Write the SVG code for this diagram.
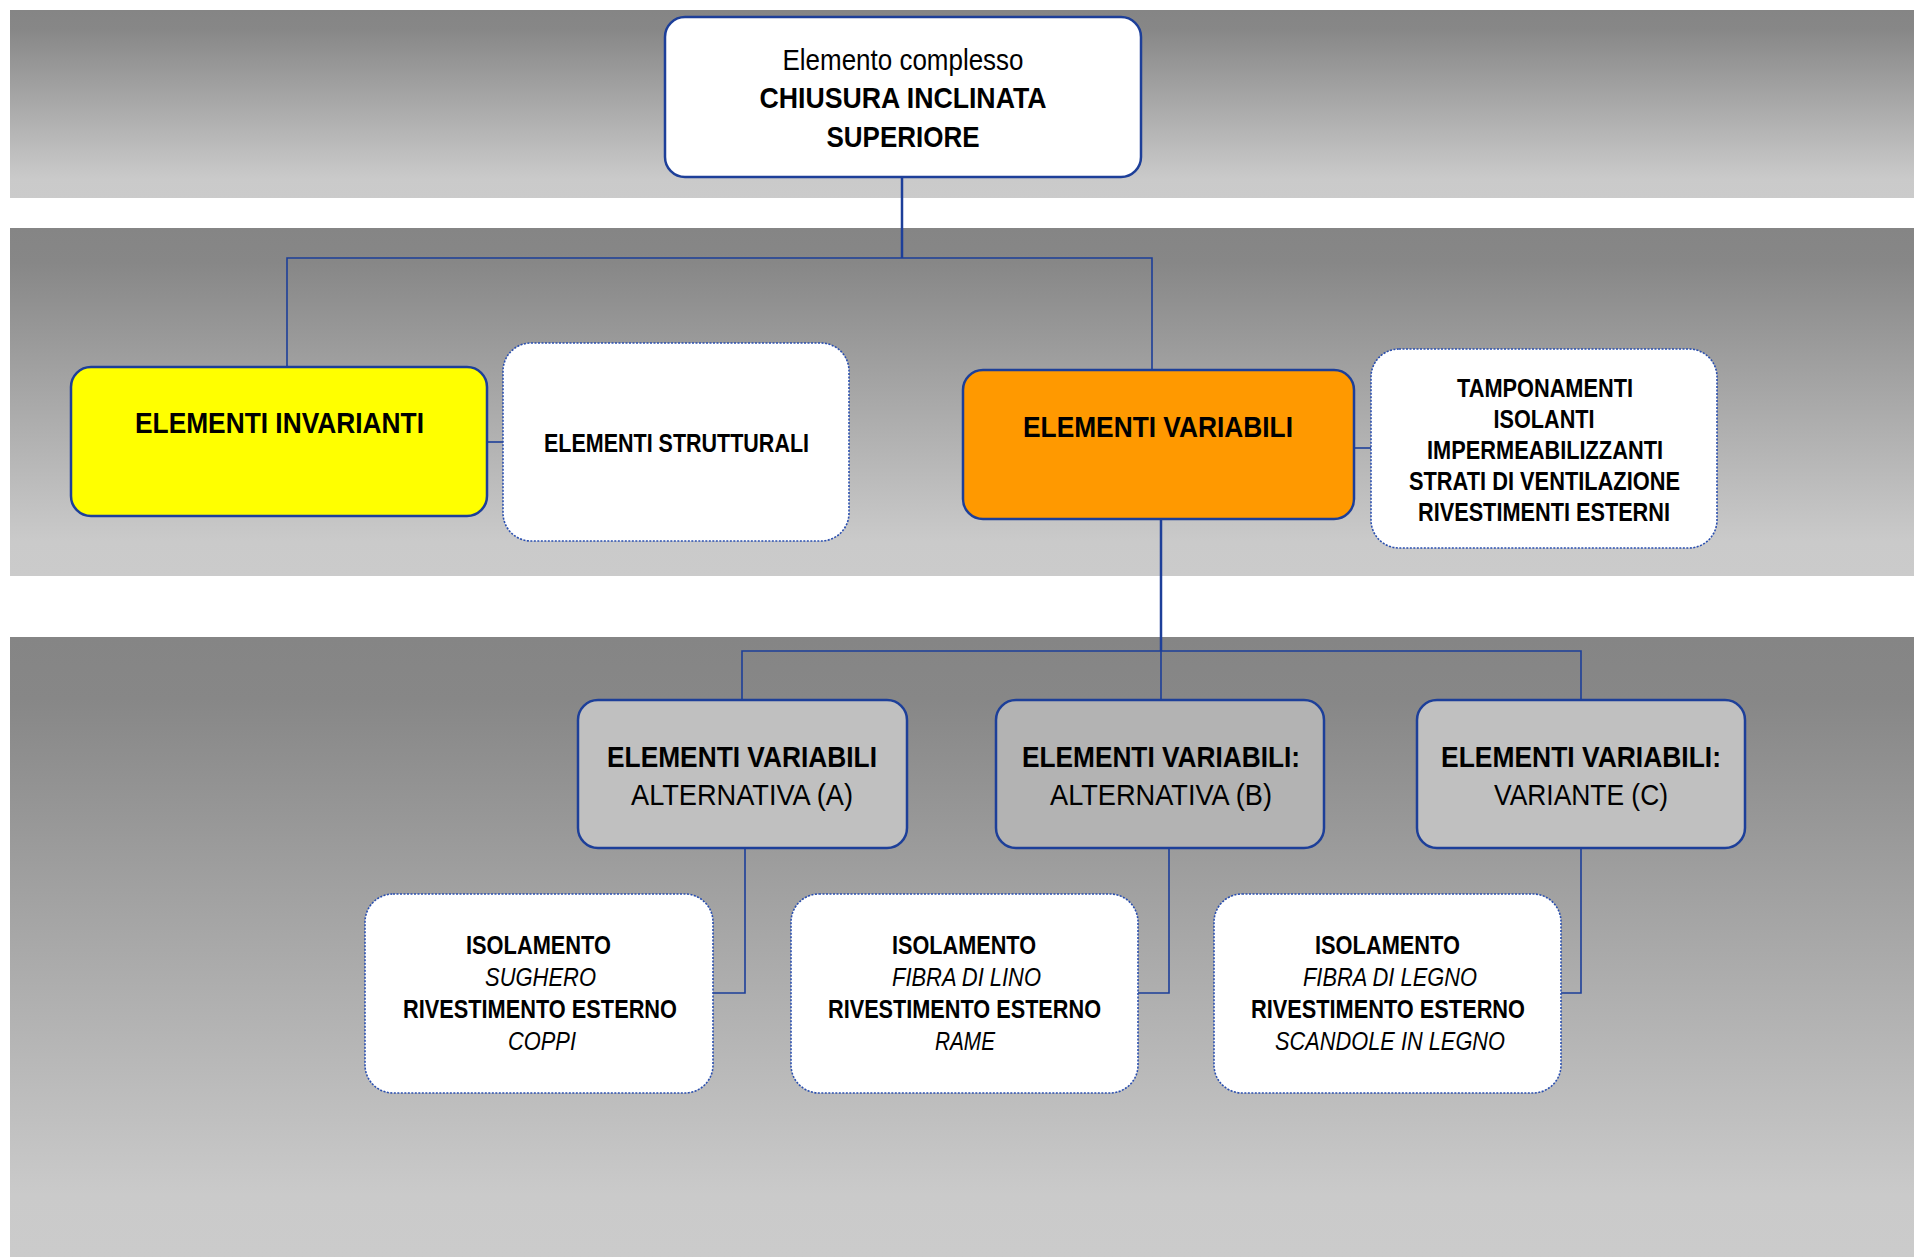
<svg xmlns="http://www.w3.org/2000/svg" width="1914" height="1257" viewBox="0 0 1914 1257">
<defs>
<linearGradient id="band" x1="0" y1="0" x2="0" y2="1">
<stop offset="0" stop-color="#858585"/>
<stop offset="0.1" stop-color="#878787"/>
<stop offset="0.9" stop-color="#cacaca"/>
<stop offset="1" stop-color="#cbcbcb"/>
</linearGradient>
<style>
text{font-family:"Liberation Sans Narrow","Liberation Sans",Arial,sans-serif;fill:#000;text-anchor:middle}
.b{font-weight:bold}
.i{font-style:italic}
.f30{font-size:30px}
.f25{font-size:25px}
.solid{stroke:#1d3f99;stroke-width:2.5}
.dot{fill:#fff;stroke:#2a4fb0;stroke-width:1.6;stroke-dasharray:2 1.5}
.conn{fill:none;stroke:#1d3f99;stroke-width:1.6}
</style>
</defs>
<rect x="0" y="0" width="1914" height="1257" fill="#fff"/>
<rect x="10" y="10" width="1904" height="188" fill="url(#band)"/>
<rect x="10" y="228" width="1904" height="348" fill="url(#band)"/>
<rect x="10" y="637" width="1904" height="620" fill="url(#band)"/>

<g id="connectors">
<path class="conn" d="M902 177V258" style="stroke-width:2.5"/>
<path class="conn" d="M287 367V258H1152V370"/>
<path class="conn" d="M487 442H503"/>
<path class="conn" d="M1354 448H1371"/>
<path class="conn" d="M1161 519V651" style="stroke-width:2.5"/>
<path class="conn" d="M742 700V651H1581V700M1161 651V700"/>
<path class="conn" d="M745 848V993H713"/>
<path class="conn" d="M1169 848V993H1138"/>
<path class="conn" d="M1581 848V993H1561"/>
</g>

<g id="root">
<rect class="solid" x="665" y="17" width="476" height="160" rx="20" fill="#fff"/>
<text class="f30" x="903" y="70" textLength="241" lengthAdjust="spacingAndGlyphs">Elemento complesso</text>
<text class="f30 b" x="903" y="108" textLength="287" lengthAdjust="spacingAndGlyphs">CHIUSURA INCLINATA</text>
<text class="f30 b" x="903" y="147" textLength="153" lengthAdjust="spacingAndGlyphs">SUPERIORE</text>
</g>

<g id="invarianti">
<rect class="solid" x="71" y="367" width="416" height="149" rx="20" fill="#ffff00"/>
<text class="f30 b" x="279.5" y="433" textLength="289" lengthAdjust="spacingAndGlyphs">ELEMENTI INVARIANTI</text>
</g>

<g id="strutturali">
<rect class="dot" x="503" y="343" width="346" height="198" rx="28"/>
<text class="f25 b" x="676.5" y="452" textLength="265" lengthAdjust="spacingAndGlyphs">ELEMENTI STRUTTURALI</text>
</g>

<g id="variabili">
<rect class="solid" x="963" y="370" width="391" height="149" rx="20" fill="#ff9900"/>
<text class="f30 b" x="1158" y="437" textLength="270" lengthAdjust="spacingAndGlyphs">ELEMENTI VARIABILI</text>
</g>

<g id="tamponamenti">
<rect class="dot" x="1371" y="349" width="346" height="199" rx="28"/>
<text class="f25 b" x="1545" y="397" textLength="176" lengthAdjust="spacingAndGlyphs">TAMPONAMENTI</text>
<text class="f25 b" x="1544" y="428" textLength="101" lengthAdjust="spacingAndGlyphs">ISOLANTI</text>
<text class="f25 b" x="1545" y="459" textLength="236" lengthAdjust="spacingAndGlyphs">IMPERMEABILIZZANTI</text>
<text class="f25 b" x="1544.5" y="490" textLength="271" lengthAdjust="spacingAndGlyphs">STRATI DI VENTILAZIONE</text>
<text class="f25 b" x="1544" y="521" textLength="252" lengthAdjust="spacingAndGlyphs">RIVESTIMENTI ESTERNI</text>
</g>

<g id="altA">
<rect class="solid" x="578" y="700" width="329" height="148" rx="20" fill="#c0c0c0"/>
<text class="f30 b" x="742" y="767" textLength="270" lengthAdjust="spacingAndGlyphs">ELEMENTI VARIABILI</text>
<text class="f30" x="742" y="805" textLength="222" lengthAdjust="spacingAndGlyphs">ALTERNATIVA (A)</text>
</g>

<g id="altB">
<rect class="solid" x="996" y="700" width="328" height="148" rx="20" fill="#b3b3b3"/>
<text class="f30 b" x="1161" y="767" textLength="278" lengthAdjust="spacingAndGlyphs">ELEMENTI VARIABILI:</text>
<text class="f30" x="1161" y="805" textLength="222" lengthAdjust="spacingAndGlyphs">ALTERNATIVA (B)</text>
</g>

<g id="varC">
<rect class="solid" x="1417" y="700" width="328" height="148" rx="20" fill="#c0c0c0"/>
<text class="f30 b" x="1581" y="767" textLength="280" lengthAdjust="spacingAndGlyphs">ELEMENTI VARIABILI:</text>
<text class="f30" x="1581" y="805" textLength="174" lengthAdjust="spacingAndGlyphs">VARIANTE (C)</text>
</g>

<g id="detA">
<rect class="dot" x="365" y="894" width="348" height="199" rx="28"/>
<text class="f25 b" x="538.5" y="954" textLength="145" lengthAdjust="spacingAndGlyphs">ISOLAMENTO</text>
<text class="f25 i" x="540.5" y="986" textLength="111" lengthAdjust="spacingAndGlyphs">SUGHERO</text>
<text class="f25 b" x="540" y="1018" textLength="274" lengthAdjust="spacingAndGlyphs">RIVESTIMENTO ESTERNO</text>
<text class="f25 i" x="542" y="1050" textLength="68" lengthAdjust="spacingAndGlyphs">COPPI</text>
</g>

<g id="detB">
<rect class="dot" x="791" y="894" width="347" height="199" rx="28"/>
<text class="f25 b" x="964" y="954" textLength="144" lengthAdjust="spacingAndGlyphs">ISOLAMENTO</text>
<text class="f25 i" x="966.5" y="986" textLength="149" lengthAdjust="spacingAndGlyphs">FIBRA DI LINO</text>
<text class="f25 b" x="964.5" y="1018" textLength="273" lengthAdjust="spacingAndGlyphs">RIVESTIMENTO ESTERNO</text>
<text class="f25 i" x="965" y="1050" textLength="60" lengthAdjust="spacingAndGlyphs">RAME</text>
</g>

<g id="detC">
<rect class="dot" x="1214" y="894" width="347" height="199" rx="28"/>
<text class="f25 b" x="1387.5" y="954" textLength="145" lengthAdjust="spacingAndGlyphs">ISOLAMENTO</text>
<text class="f25 i" x="1390" y="986" textLength="174" lengthAdjust="spacingAndGlyphs">FIBRA DI LEGNO</text>
<text class="f25 b" x="1388" y="1018" textLength="274" lengthAdjust="spacingAndGlyphs">RIVESTIMENTO ESTERNO</text>
<text class="f25 i" x="1390" y="1050" textLength="230" lengthAdjust="spacingAndGlyphs">SCANDOLE IN LEGNO</text>
</g>
</svg>
